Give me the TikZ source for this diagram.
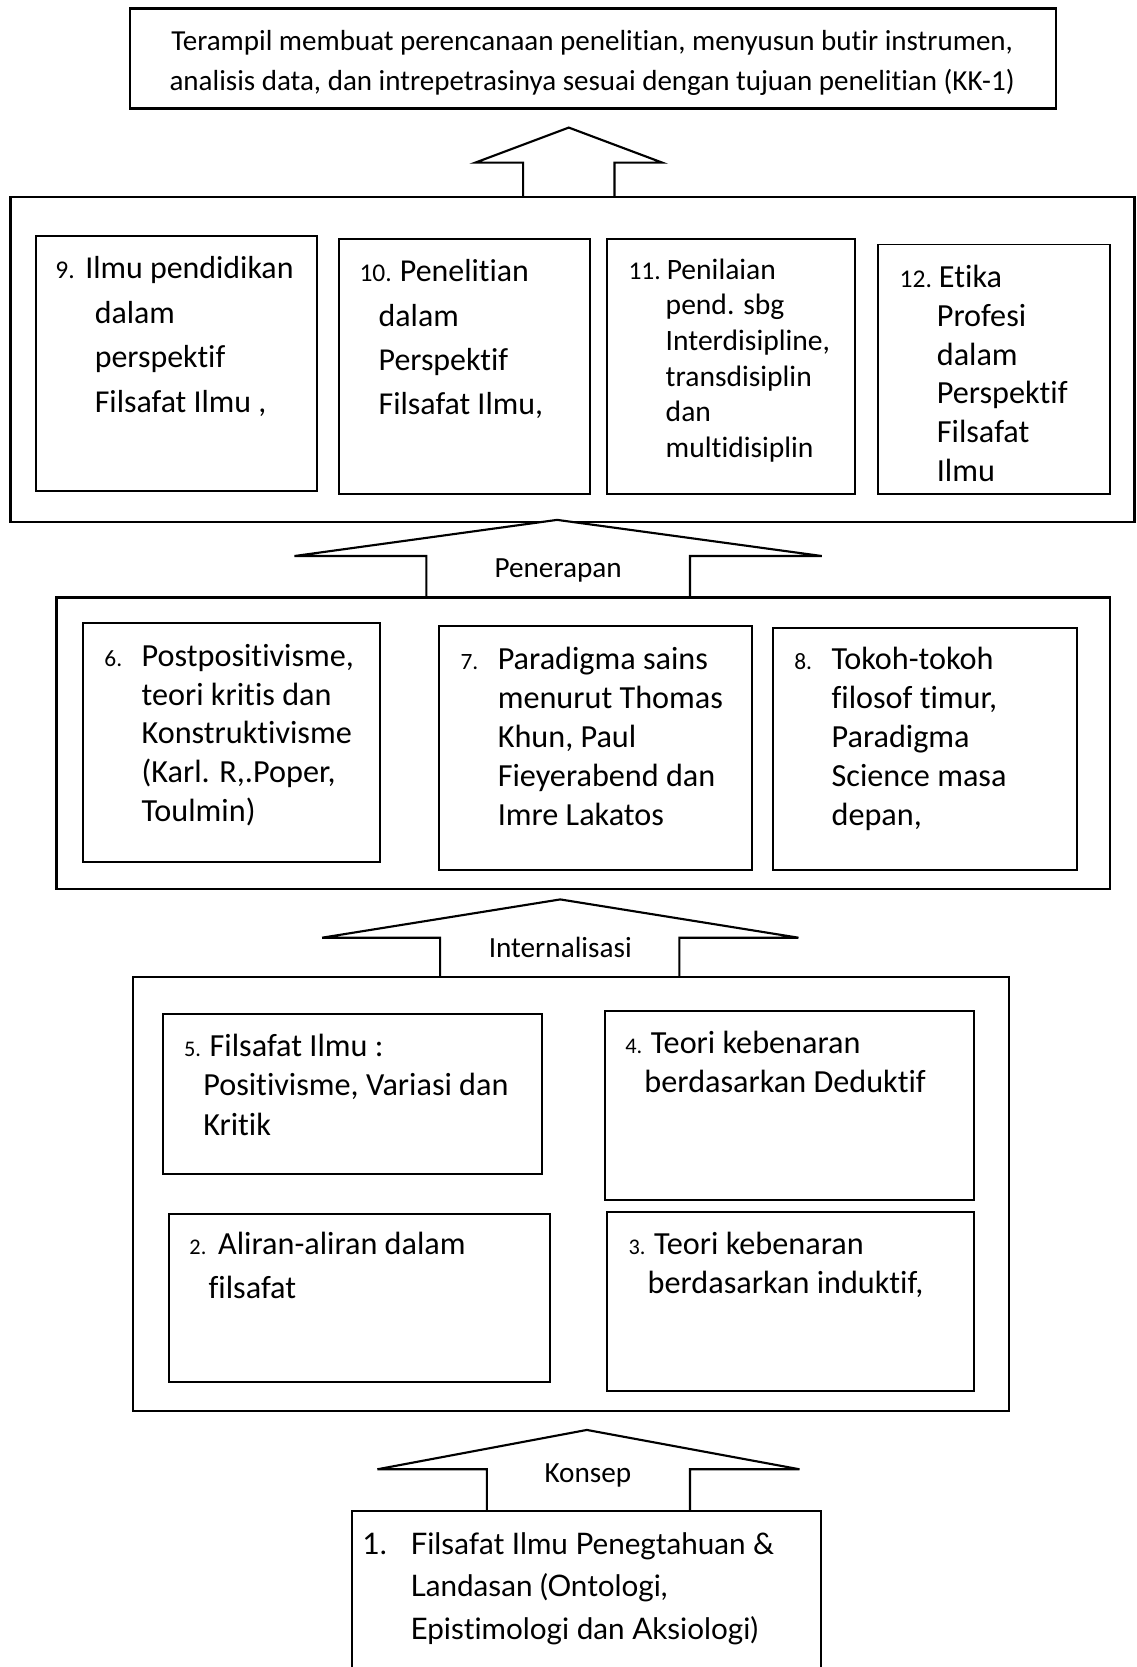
\documentclass[tikz,border=0pt]{standalone}
\usepackage{fontspec}
\setmainfont{Carlito}[Ligatures={NoCommon}]
\newfontfamily\gillfont{Lato}[Ligatures={NoCommon}]
\newcommand\setfs[2]{\fontsize{#1}{#2}\selectfont}
\newcommand\numbox[3]{\makebox[#1pt][l]{{\fontsize{#2}{#2}\selectfont #3}}}
\begin{document}
\begin{tikzpicture}[x=1pt,y=-1pt,
  outer/.style={draw=black,line width=2.2pt},
  inner/.style={draw=black,line width=1.8pt},
  blockarrow/.style={draw=black,line width=2pt,fill=white,line join=miter},
  txt/.style={anchor=north west,align=left,inner sep=0pt},
  lbl/.style={inner sep=0pt,font=\setfs{27.5}{27.5}}]
\useasboundingbox (0,0) rectangle (1069,1568);
\fill[white] (0,0) rectangle (1069,1568);

% top box
\node[outer,minimum width=871pt,minimum height=94pt,inner sep=0pt] (top) at (557.5,55) {};
\node[align=center,font=\setfs{27.3}{38},inner sep=0pt] (toptxt) at (557,59)
 {Terampil membuat perencanaan penelitian, menyusun butir instrumen,\\
  analisis data, dan intrepetrasinya sesuai dengan tujuan penelitian (KK-1)};

% arrow 1
\draw[blockarrow] (492,185) -- (492,153) -- (447,153) -- (535,120) -- (623,153) -- (578,153) -- (578,185);

% level 9-12
\draw[outer] (10,185) rectangle (1067,491);
\node[inner,minimum width=264pt,minimum height=240pt,inner sep=0pt] (b9) at (166,342) {};
\node[inner,minimum width=236pt,minimum height=240pt,inner sep=0pt] (b10) at (437,345) {};
\node[inner,minimum width=233pt,minimum height=240pt,inner sep=0pt] (b11) at (687.5,345) {};
\node[inner,minimum width=218pt,minimum height=235pt,inner sep=0pt] (b12) at (935,347.5) {};

\node[txt,font=\setfs{30}{42}] (t9) at (52,241)
 {\numbox{28}{24}{9.}Ilmu pendidikan\\\hspace*{37pt}dalam\\\hspace*{37pt}perspektif\\\hspace*{37pt}Filsafat Ilmu ,};
\node[txt,font=\setfs{30}{41.7}] (t10) at (338,244)
 {\numbox{38}{24}{10.}Penelitian\\\hspace*{18pt}dalam\\\hspace*{18pt}Perspektif\\\hspace*{18pt}Filsafat Ilmu,};
\node[txt,font=\setfs{27.8}{33.6}] (t11) at (591,243)
 {\numbox{36}{24}{11.}Penilaian\\\hspace*{35pt}pend. sbg\\\hspace*{35pt}Interdisipline,\\\hspace*{35pt}transdisiplin\\\hspace*{35pt}dan\\\hspace*{35pt}multidisiplin};
\node[txt,font=\setfs{30.3}{36.4}] (t12) at (846,249.5)
 {\numbox{37}{24}{12.}Etika\\\hspace*{35pt}Profesi\\\hspace*{35pt}dalam\\\hspace*{35pt}Perspektif\\\hspace*{35pt}Filsafat\\\hspace*{35pt}Ilmu};

% arrow 2
\draw[blockarrow] (401,562) -- (401,523) -- (277,523) -- (524,489) -- (773,523) -- (649,523) -- (649,562);
\node[lbl] (l2) at (525,537) {Penerapan};

% level 6-8
\draw[outer] (53,562) rectangle (1044,836);
\node[inner,minimum width=279pt,minimum height=225pt,inner sep=0pt] (b6) at (217.5,698.5) {};
\node[inner,minimum width=294pt,minimum height=229pt,inner sep=0pt] (b7) at (560,703.5) {};
\node[inner,minimum width=286pt,minimum height=227pt,inner sep=0pt] (b8) at (870,704.5) {};

\node[txt,font=\setfs{30.3}{36.6}] (t6) at (98,605.5)
 {\numbox{35}{22}{6.}Postpositivisme,\\\hspace*{35pt}teori kritis dan\\\hspace*{35pt}Konstruktivisme\\\hspace*{35pt}(Karl. R,.Poper,\\\hspace*{35pt}Toulmin)};
\node[txt,font=\setfs{30.3}{36.6}] (t7) at (433,608.5)
 {\numbox{35}{22}{7.}Paradigma sains\\\hspace*{35pt}menurut Thomas\\\hspace*{35pt}Khun, Paul\\\hspace*{35pt}Fieyerabend dan\\\hspace*{35pt}Imre Lakatos};
\node[txt,font=\setfs{30.3}{36.6}] (t8) at (747,608.5)
 {\numbox{35}{22}{8.}Tokoh-tokoh\\\hspace*{35pt}filosof timur,\\\hspace*{35pt}Paradigma\\\hspace*{35pt}Science masa\\\hspace*{35pt}depan,};

% arrow 3
\draw[blockarrow] (414,919) -- (414,882) -- (303,882) -- (527,846) -- (751,882) -- (639,882) -- (639,919);
\node[lbl] (l3) at (527,891) {Internalisasi};

% level 2-5
\draw[outer] (125,919) rectangle (949,1327);
\node[inner,minimum width=357pt,minimum height=150pt,inner sep=0pt] (b5) at (331.5,1029) {};
\node[inner,minimum width=347pt,minimum height=178pt,inner sep=0pt] (b4) at (742.5,1040) {};
\node[inner,minimum width=358pt,minimum height=158pt,inner sep=0pt] (b2) at (338,1221) {};
\node[inner,minimum width=345pt,minimum height=168pt,inner sep=0pt] (b3) at (743.5,1224) {};

\node[txt,font=\setfs{30.3}{37}] (t5) at (173,972.5)
 {\numbox{24}{21}{5.}Filsafat Ilmu :\\\hspace*{18pt}Positivisme, Variasi dan\\\hspace*{18pt}Kritik};
\node[txt,font=\setfs{30.3}{37}] (t4) at (588,969.5)
 {\numbox{24}{21}{4.}Teori kebenaran\\\hspace*{18pt}berdasarkan Deduktif};
\node[txt,font=\setfs{30.3}{42}] (t2) at (178,1158.5)
 {\numbox{27}{21}{2.}Aliran-aliran dalam\\\hspace*{18pt}filsafat};
\node[txt,font=\setfs{30.3}{37}] (t3) at (591,1158.5)
 {\numbox{24}{21}{3.}Teori kebenaran\\\hspace*{18pt}berdasarkan induktif,};

% arrow 4
\draw[blockarrow] (458,1421) -- (458,1382) -- (355,1382) -- (552,1345) -- (752,1382) -- (649,1382) -- (649,1421);
\node[lbl] (l4) at (553,1388) {Konsep};

% box 1
\draw[inner] (331,1575) -- (331,1421) -- (772,1421) -- (772,1575);
\node[txt,font=\gillfont\setfs{27.9}{40}] (t1) at (341,1441)
 {\makebox[45pt][l]{1.}Filsafat Ilmu Penegtahuan \&\\\hspace*{45pt}Landasan (Ontologi,\\\hspace*{45pt}Epistimologi dan Aksiologi)};
\end{tikzpicture}
\end{document}
